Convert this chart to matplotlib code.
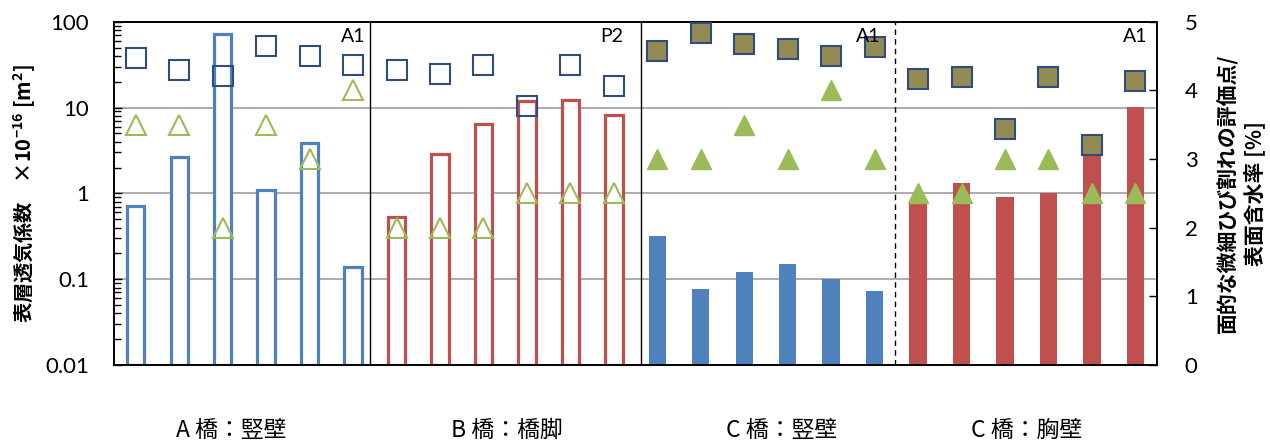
import numpy as np
import matplotlib
matplotlib.use("Agg")
import matplotlib.pyplot as plt

plt.rcParams['font.family'] = ['Noto Sans CJK JP', 'DejaVu Sans']
plt.rcParams['axes.unicode_minus'] = False

# 表層透気係数 (×10^-16 m2) — 各部位6測点
kt_a = [0.72, 2.65, 71, 1.1, 3.9, 0.14]        # A橋 竪壁
kt_b = [0.53, 2.85, 6.5, 11.9, 12.1, 8.1]      # B橋 橋脚
kt_c1 = [0.32, 0.077, 0.122, 0.152, 0.10, 0.073]  # C橋 竪壁
kt_c2 = [0.79, 1.31, 0.91, 1.0, 3.5, 10.1]     # C橋 胸壁

# 表面含水率 [%]
w_a = [4.47, 4.30, 4.21, 4.64, 4.50, 4.37]
w_b = [4.30, 4.24, 4.37, 3.77, 4.37, 4.07]
w_c1 = [4.57, 4.84, 4.67, 4.60, 4.50, 4.63]
w_c2 = [4.17, 4.20, 3.44, 4.20, 3.20, 4.14]

# 面的な微細ひび割れの評価点
ev_a = [3.5, 3.5, 2.0, 3.5, 3.0, 4.0]
ev_b = [2.0, 2.0, 2.0, 2.5, 2.5, 2.5]
ev_c1 = [3.0, 3.0, 3.5, 3.0, 4.0, 3.0]
ev_c2 = [2.5, 2.5, 3.0, 3.0, 2.5, 2.5]

groups = ['A 橋：竪壁', 'B 橋：橋脚', 'C 橋：竪壁', 'C 橋：胸壁']
tags = ['A1', 'P2', 'A1', 'A1']

blue = '#4F81BD'
red = '#C0504D'
navy = '#2C4D7E'
olive = '#948A54'
green = '#9BBB59'

fig = plt.figure(figsize=(12.7, 4.43), dpi=100)
ax = fig.add_axes([0.0898, 0.176, 0.8213, 0.775])
ax2 = ax.twinx()

base = 0.01
x_a = np.arange(0, 6)
x_b = np.arange(6, 12)
x_c1 = np.arange(12, 18)
x_c2 = np.arange(18, 24)
bw = 0.4

ax.set_yscale('log')
ax.bar(x_a, np.array(kt_a) - base, bottom=base, width=bw, facecolor='white',
       edgecolor=blue, linewidth=2.3, zorder=2)
ax.bar(x_b, np.array(kt_b) - base, bottom=base, width=bw, facecolor='white',
       edgecolor=red, linewidth=2.3, zorder=2)
ax.bar(x_c1, np.array(kt_c1) - base, bottom=base, width=bw, color=blue, zorder=2)
ax.bar(x_c2, np.array(kt_c2) - base, bottom=base, width=bw, color=red, zorder=2)
ax.set_ylim(0.01, 100)
ax.set_xlim(-0.5, 23.5)
ax.set_yticks([0.01, 0.1, 1, 10, 100])
ax.set_yticklabels(['0.01', '0.1', '1', '10', '100'], family=['Lato', 'DejaVu Sans'])
ax.yaxis.grid(True, which='major', color='#A6A6A6', linewidth=1.3, zorder=0)
ax.set_axisbelow(True)
ax.set_xticks([])
ax.tick_params(axis='y', which='major', direction='in', length=6, width=1,
               labelsize=16, pad=18)
ax.tick_params(axis='y', which='minor', direction='in', length=5, width=1)
ax.set_ylabel(r'表層透気係数　×10$^{\mathregular{-16}}$ [m$^{\mathregular{2}}$]',
              fontsize=14.5, fontweight='bold', labelpad=6)

# 含水率（□）と評価点（△）は右軸
ax2.plot(x_a, w_a, 's', ms=14, mfc='none', mec=navy, mew=1.5, zorder=4)
ax2.plot(x_b, w_b, 's', ms=14, mfc='none', mec=navy, mew=1.5, zorder=4)
ax2.plot(x_c1, w_c1, 's', ms=14, mfc=olive, mec=navy, mew=1.5, zorder=4)
ax2.plot(x_c2, w_c2, 's', ms=14, mfc=olive, mec=navy, mew=1.5, zorder=4)
ax2.plot(x_a, ev_a, '^', ms=14, mfc='none', mec=green, mew=1.5, zorder=4)
ax2.plot(x_b, ev_b, '^', ms=14, mfc='none', mec=green, mew=1.5, zorder=4)
ax2.plot(x_c1, ev_c1, '^', ms=14, mfc=green, mec=green, mew=1, zorder=4)
ax2.plot(x_c2, ev_c2, '^', ms=14, mfc=green, mec=green, mew=1, zorder=4)
ax2.set_ylim(0, 5)
ax2.set_yticks([0, 1, 2, 3, 4, 5])
ax2.set_yticklabels(['0', '1', '2', '3', '4', '5'], family=['Lato', 'DejaVu Sans'])
ax2.tick_params(axis='y', direction='in', length=6, width=1, labelsize=16, pad=20)
ax2.set_ylabel('面的な微細ひび割れの評価点/\n表面含水率 [%]', fontsize=15,
               fontweight='bold', rotation=90, labelpad=14, linespacing=1.25)

for a in (ax, ax2):
    for s in a.spines.values():
        s.set_color('black')
        s.set_linewidth(1.2)

# 部位の区切り線
ax.axvline(5.4, color='black', linewidth=1.0, zorder=3)
ax.axvline(11.62, color='black', linewidth=1.0, zorder=3)
ax.axvline(17.48, color='black', linewidth=1.0, linestyle=(0, (4, 3)), zorder=3)

tag_x = [5.0, 10.95, 16.85, 23.0]
for tx, t in zip(tag_x, tags):
    ax2.text(tx, 4.78, t, fontsize=14, family=['Lato', 'DejaVu Sans'],
             ha='center', va='center', zorder=6)

label_x = [2.2, 8.55, 14.85, 20.5]
for lx, g in zip(label_x, groups):
    ax.text(lx, -0.19, g, transform=ax.get_xaxis_transform(), fontsize=16.5,
            ha='center', va='center')

fig.savefig('out.png', dpi=100)
